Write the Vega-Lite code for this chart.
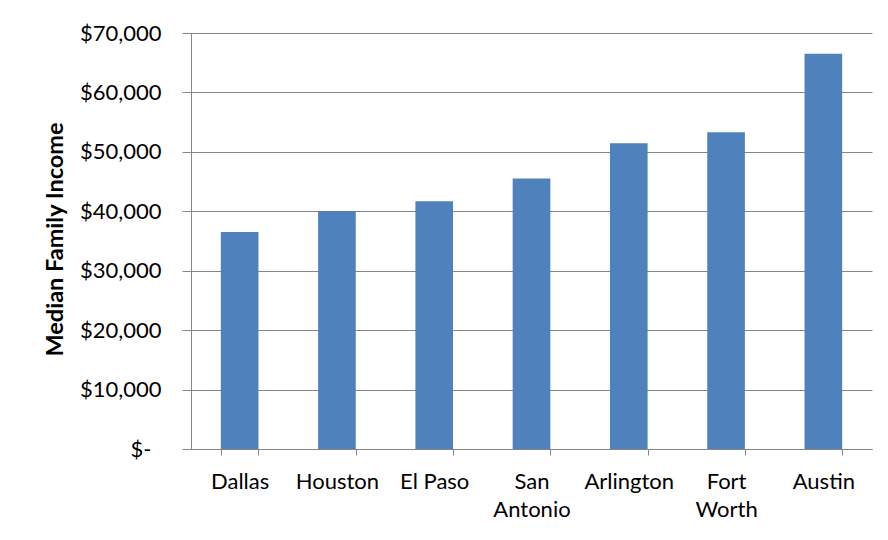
{
  "$schema": "https://vega.github.io/schema/vega-lite/v6.json",
  "width": 681,
  "height": 416,
  "autosize": {"type": "none"},
  "padding": {"left": 191, "top": 33, "right": 16, "bottom": 91},
  "background": "white",
  "config": {
    "view": {"stroke": null},
    "font": "Lato"
  },
  "data": {
    "values": [
      {"city": "Dallas", "income": 36500},
      {"city": "Houston", "income": 40050},
      {"city": "El Paso", "income": 41700},
      {"city": "San Antonio", "income": 45500},
      {"city": "Arlington", "income": 51450},
      {"city": "Fort Worth", "income": 53300},
      {"city": "Austin", "income": 66500}
    ]
  },
  "mark": {"type": "bar", "color": "#4F81BD"},
  "encoding": {
    "x": {
      "field": "city",
      "type": "nominal",
      "sort": null,
      "scale": {"paddingInner": 0.613, "paddingOuter": 0.3065},
      "axis": {
        "title": null,
        "labelAngle": 0,
        "labelFont": "Lato",
        "labelFontSize": 22,
        "labelColor": "#000000",
        "labelPadding": 16,
        "labelLineHeight": 28,
        "labelBaseline": "top",
        "labelExpr": "datum.value == 'San Antonio' ? ['San', 'Antonio'] : datum.value == 'Fort Worth' ? ['Fort', 'Worth'] : datum.label",
        "tickBand": "extent",
        "tickSize": 6,
        "tickColor": "#868686",
        "domainColor": "#868686",
        "grid": false
      }
    },
    "y": {
      "field": "income",
      "type": "quantitative",
      "scale": {"domain": [0, 70000], "nice": false},
      "axis": {
        "values": [0, 10000, 20000, 30000, 40000, 50000, 60000, 70000],
        "labelExpr": "datum.value == 0 ? '$-' : '$' + format(datum.value, ',')",
        "labelFont": "Lato",
        "labelFontSize": 22,
        "labelColor": "#000000",
        "labelPadding": {"condition": {"test": "datum.value == 0", "value": 31}, "value": 21},
        "tickSize": 9,
        "tickColor": "#868686",
        "domainColor": "#868686",
        "gridColor": "#868686",
        "grid": true,
        "title": "Median Family Income",
        "titleFont": "Lato",
        "titleFontSize": 23.5,
        "titleFontWeight": "bold",
        "titleColor": "#000000",
        "titleAngle": -90,
        "titleBaseline": "middle",
        "titleAnchor": "middle",
        "titleX": -136,
        "titleY": 206
      }
    }
  }
}
